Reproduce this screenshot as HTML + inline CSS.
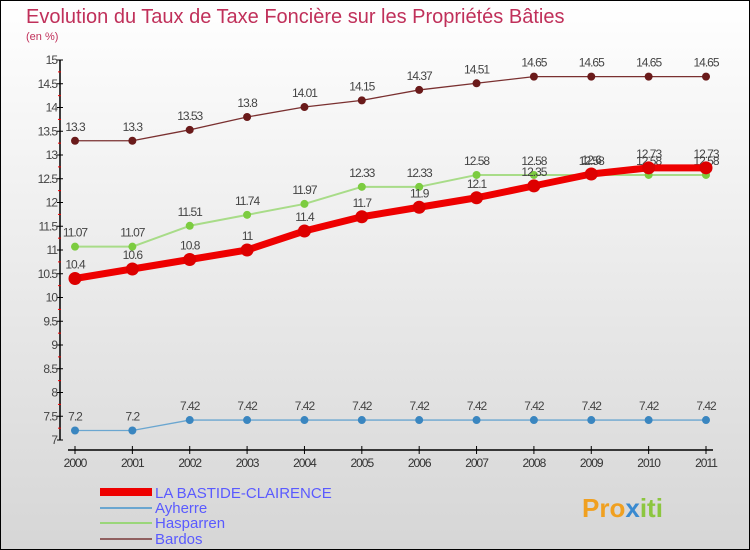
<!DOCTYPE html>
<html><head><meta charset="utf-8"><style>
body{margin:0}
#c{width:750px;height:550px;position:relative;box-sizing:border-box;border:1px solid #000;background:linear-gradient(#fff,#d6d6d6);font-family:"Liberation Sans",sans-serif;overflow:hidden}
</style></head><body>
<div id="c">
<svg id="s" width="750" height="550" style="position:absolute;left:-1px;top:-1px">
<text x="26" y="23" font-size="20" fill="#c0305a">Evolution du Taux de Taxe Foncière sur les Propriétés Bâties</text>
<text x="26" y="40" font-size="11" fill="#c0305a">(en %)</text>
<g id="axes"></g><g id="series"></g>
<g>
<rect x="100" y="488" width="52" height="8" fill="#e00"/>
<text x="155" y="498" font-size="15" fill="#5a5aff">LA BASTIDE-CLAIRENCE</text>
<rect x="100" y="507" width="52" height="2" fill="#6aa6d0"/>
<text x="155" y="513" font-size="15" fill="#5a5aff">Ayherre</text>
<rect x="100" y="522" width="52" height="2" fill="#9ad67a"/>
<text x="155" y="528" font-size="15" fill="#5a5aff">Hasparren</text>
<rect x="100" y="538" width="52" height="2" fill="#906060"/>
<text x="155" y="544" font-size="15" fill="#5a5aff">Bardos</text>
</g>
<text x="582" y="517" font-size="26" font-weight="bold" fill="#f0a020">Pro<tspan fill="#3a8ad0">x</tspan><tspan fill="#8cc63f">iti</tspan></text>
</svg>
</div>
<script>
const years=[2000,2001,2002,2003,2004,2005,2006,2007,2008,2009,2010,2011];
const bastide=[10.4,10.6,10.8,11,11.4,11.7,11.9,12.1,12.35,12.6,12.73,12.73];
const ayherre=[7.2,7.2,7.42,7.42,7.42,7.42,7.42,7.42,7.42,7.42,7.42,7.42];
const hasparren=[11.07,11.07,11.51,11.74,11.97,12.33,12.33,12.58,12.58,12.58,12.58,12.58];
const bardos=[13.3,13.3,13.53,13.8,14.01,14.15,14.37,14.51,14.65,14.65,14.65,14.65];
const yTicks=[7,7.5,8,8.5,9,9.5,10,10.5,11,11.5,12,12.5,13,13.5,14,14.5,15];
const NS="http://www.w3.org/2000/svg";
const X=i=>75+i*(631/(years.length-1));
const Y=v=>440-(v-7)*47.5;
function mk(t,a,p){const e=document.createElementNS(NS,t);for(const k in a)e.setAttribute(k,a[k]);p.appendChild(e);return e;}
const ax=document.getElementById('axes');
const yl=mk('line',{x1:60,y1:Y(15),x2:60,y2:Y(7),stroke:'#000','stroke-width':1.5},ax);


yTicks.forEach(v=>{
 mk('line',{x1:57,x2:63,y1:Y(v),y2:Y(v),stroke:'#000'},ax);
 if(v>7) mk('line',{x1:58,x2:61,y1:Y(v)+11.9,y2:Y(v)+11.9,stroke:'#e00'},ax);
 const t=mk('text',{x:57,y:Y(v)+4,'font-size':12,'text-anchor':'end',fill:'#444','letter-spacing':'-1'},ax);
 t.textContent=v;
 
 
});
const xl=mk('line',{x1:68,x2:713,y1:450,y2:450,stroke:'#000','stroke-width':1.5},ax);


years.forEach((y,i)=>{
 mk('line',{x1:X(i),x2:X(i),y1:446,y2:454,stroke:'#000'},ax);
 const t=mk('text',{x:X(i),y:467,'font-size':12,'text-anchor':'middle',fill:'#333','letter-spacing':'-1'},ax);
 t.textContent=y;
 
 
});
const sg=document.getElementById('series');
function series(name,data,color,w,r,fill){
 const g=mk('g',{},sg);
 
 
 mk('polyline',{points:data.map((v,i)=>X(i)+','+Y(v)).join(' '),fill:'none',stroke:color,'stroke-width':w,'stroke-linejoin':'round'},g);
 data.forEach((v,i)=>{
  const c=mk('circle',{cx:X(i),cy:Y(v),r:r,fill:fill},g);
  
  
  const t=mk('text',{x:X(i),y:Y(v)-10,'font-size':12,'text-anchor':'middle',fill:'#444','letter-spacing':'-1'},g);
  t.textContent=v;
  
  
 });
}
series('bardos',bardos,'#7a3030',1.3,4,'#6a1a1a');
series('ayherre',ayherre,'#6aa6d0',1.3,4,'#3a86c0');
series('hasparren',hasparren,'#a8dc88',2,4,'#7ccc40');
series('la-bastide',bastide,'#ee0000',7,6.5,'#dd0000');
</script>
</body></html>
